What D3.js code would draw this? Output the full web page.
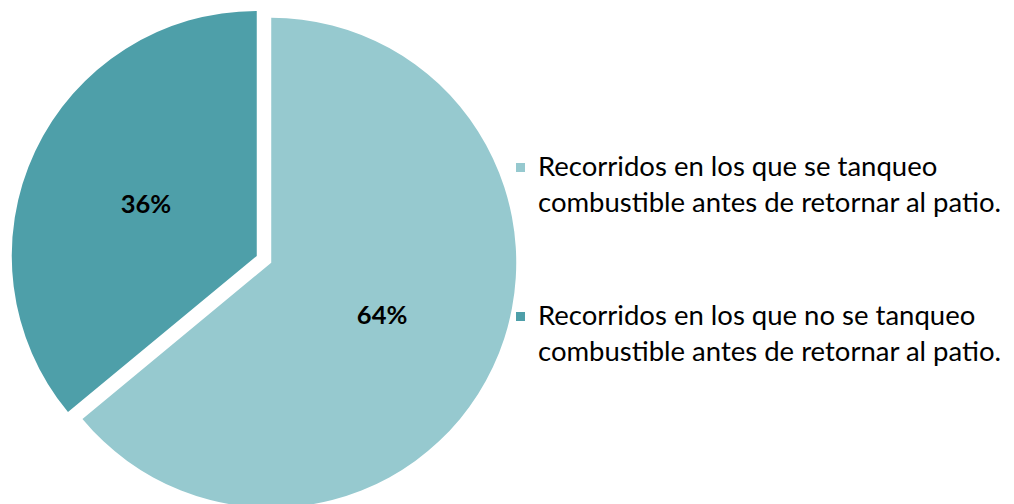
<!DOCTYPE html>
<html>
<head>
<meta charset="utf-8">
<script src="https://cdn.jsdelivr.net/npm/d3@7"></script>
<style>
  html, body { margin: 0; padding: 0; background: #ffffff; }
  svg { display: block; }
  text { font-family: Lato, "Open Sans", sans-serif; fill: #000; }
</style>
</head>
<body>
<svg id="chart" width="1014" height="504"></svg>
<script>
// Share of trips by refuelling before returning to the yard
const categories = [
  "Recorridos en los que se tanqueo combustible antes de retornar al patio.",
  "Recorridos en los que no se tanqueo combustible antes de retornar al patio."
];
const legendLines = [
  ["Recorridos en los que se tanqueo", "combustible antes de retornar al patio."],
  ["Recorridos en los que no se tanqueo", "combustible antes de retornar al patio."]
];
const values = [64, 36];
const colors = ["#96c9cf", "#4e9fa9"];

const svg = d3.select("#chart");
const cx = 264, cy = 259.3, radius = 245, explode = 8;

const pie = d3.pie().sort(null).value(d => d);
const arcs = pie(values);
const arc = d3.arc().innerRadius(0).outerRadius(radius);

const g = svg.append("g").attr("transform", `translate(${cx},${cy})`);

const slice = g.selectAll("g.slice")
  .data(arcs)
  .join("g")
  .attr("class", "slice")
  .attr("transform", d => {
    const a = (d.startAngle + d.endAngle) / 2;
    return `translate(${Math.sin(a) * explode},${-Math.cos(a) * explode})`;
  });

slice.append("path")
  .attr("d", arc)
  .attr("fill", (d, i) => colors[i]);

slice.append("text")
  .attr("transform", d => `translate(${arc.centroid(d)})`)
  .attr("text-anchor", "middle")
  .attr("dy", "0.36em")
  .style("font-weight", "bold")
  .style("font-size", "25.5px")
  .text(d => d.data + "%");

// Legend
const legend = svg.append("g").attr("transform", "translate(516,0)");
const legendY = [176, 325];
const item = legend.selectAll("g.item")
  .data(legendLines)
  .join("g")
  .attr("class", "item")
  .attr("transform", (d, i) => `translate(0,${legendY[i]})`);

item.append("rect")
  .attr("x", 0).attr("y", -13)
  .attr("width", 9).attr("height", 9)
  .attr("fill", (d, i) => colors[i]);

item.append("text")
  .attr("x", 22)
  .style("font-size", "27.5px")
  .selectAll("tspan")
  .data(d => d)
  .join("tspan")
  .attr("x", 22)
  .attr("dy", (d, j) => j === 0 ? 0 : 36)
  .text(d => d);
</script>
</body>
</html>
